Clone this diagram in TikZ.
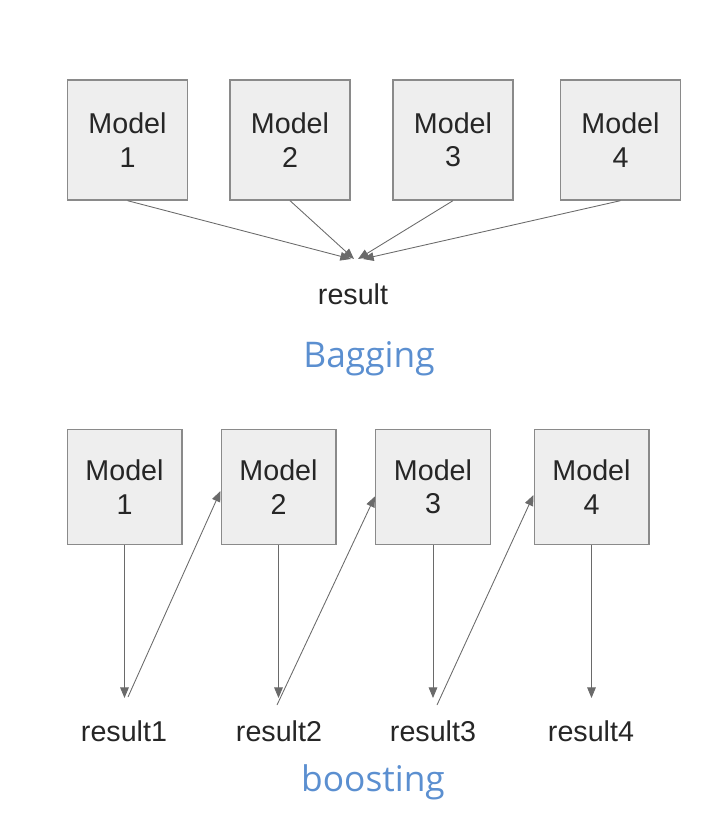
\documentclass[tikz,border=0pt]{standalone}
\usepackage{fontspec}
\setmainfont{Liberation Sans}
\newfontfamily\titlefont{Open Sans}
\usetikzlibrary{arrows.meta, positioning}
\definecolor{cBox}{HTML}{EEEEEE}
\definecolor{cBorder}{HTML}{8A8A8A}
\definecolor{cArrow}{HTML}{6A6A6A}
\definecolor{cTitle}{HTML}{5B8FD0}

\begin{document}
\begin{tikzpicture}[x=0.75pt, y=-0.75pt,
    >={Triangle[length=8pt, width=6.5pt]},
    model/.style={
        rectangle, draw=cBorder, fill=cBox, line width=1pt,
        minimum width=#1, minimum height=#1, inner sep=0pt,
        font=\fontsize{21.5}{25}\selectfont, align=center, text=black!85
    },
    res/.style={font=\fontsize{21.5}{25}\selectfont, text=black!85, inner sep=0pt},
    title/.style={font=\titlefont\fontsize{26.5}{30}\selectfont, text=cTitle, inner sep=0pt},
    arr/.style={->, line width=0.65pt, color=cArrow},
]
\useasboundingbox (0,0) rectangle (702,824);

% Bagging - models
\node[model=90pt] (bag1) at (127.5,140) {Model\\1};
\node[model=90pt] (bag2) at (290,140)   {Model\\2};
\node[model=90pt] (bag3) at (453,140)   {Model\\3};
\node[model=90pt] (bag4) at (620.5,140) {Model\\4};

% Bagging - result
\node[res] (result) at (353,294) {result};
\coordinate (in1) at (351,259);
\coordinate (in2) at (354,259);
\coordinate (in3) at (358,259);
\coordinate (in4) at (363,259);
\node[title] (bagging) at (369,359) {Bagging};

\draw[arr] (bag1.south) -- (in1);
\draw[arr] (bag2.south) -- (in2);
\draw[arr] (bag3.south) -- (in3);
\draw[arr] (bag4.south) -- (in4);

% Boosting - models
\node[model=86pt] (bst1) at (124.5,487) {Model\\1};
\node[model=86pt] (bst2) at (278.5,487) {Model\\2};
\node[model=86pt] (bst3) at (433,487)   {Model\\3};
\node[model=86pt] (bst4) at (591.5,487) {Model\\4};

% Boosting - results
\node[res] (res1) at (124,731) {result1};
\node[res] (res2) at (279,731) {result2};
\node[res] (res3) at (433,731) {result3};
\node[res] (res4) at (591,731) {result4};
\node[title] (boosting) at (373,782) {boosting};

\coordinate (out1) at (124.5,698);
\coordinate (out2) at (278.5,698);
\coordinate (out3) at (433,698);
\coordinate (out4) at (591.5,698);
\coordinate (up1) at (128,697);
\coordinate (up2) at (277,705);
\coordinate (up3) at (437,705);

% Arrows - model to its result
\draw[arr] (bst1.south) -- (out1);
\draw[arr] (bst2.south) -- (out2);
\draw[arr] (bst3.south) -- (out3);
\draw[arr] (bst4.south) -- (out4);

% Arrows - result feeds next model
\draw[arr] (up1) -- ([yshift=-3pt]bst2.west);
\draw[arr] (up2) -- ([yshift=-7pt]bst3.west);
\draw[arr] (up3) -- ([yshift=-6pt]bst4.west);
\end{tikzpicture}
\end{document}
